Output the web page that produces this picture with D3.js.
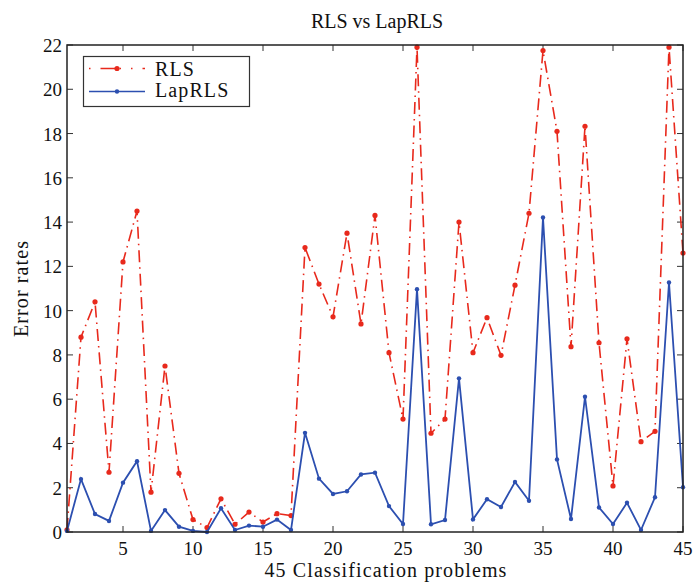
<!DOCTYPE html>
<html>
<head>
<meta charset="utf-8">
<script src="https://cdn.jsdelivr.net/npm/d3@7"></script>
<style>
  body { margin: 0; background: #fff; }
  text { font-family: "Liberation Serif", "DejaVu Serif", serif; fill: #111; }
  .lbl { font-size: 20px; letter-spacing: 1.1px; }
</style>
</head>
<body>
<div id="chart"></div>
<script>
(function () {
    // Data
    const problems = d3.range(1, 46);
    const rls = [0.1, 8.8, 10.4, 2.7, 12.2, 14.5, 1.8, 7.5, 2.65, 0.56,
                 0.2, 1.5, 0.35, 0.9, 0.45, 0.83, 0.74, 12.85, 11.2, 9.72,
                 13.5, 9.4, 14.3, 8.1, 5.1, 21.9, 4.46, 5.1, 14.0, 8.1,
                 9.68, 7.98, 11.15, 14.4, 21.75, 18.1, 8.37, 18.33, 8.55, 2.08,
                 8.73, 4.08, 4.55, 21.9, 12.6];
    const laprls = [0.05, 2.39, 0.81, 0.5, 2.23, 3.2, 0.05, 0.99, 0.24, 0.05,
                    0.0, 1.07, 0.09, 0.29, 0.24, 0.56, 0.09, 4.48, 2.41, 1.72,
                    1.84, 2.6, 2.68, 1.17, 0.36, 10.97, 0.35, 0.54, 6.94, 0.57,
                    1.48, 1.13, 2.26, 1.41, 14.21, 3.28, 0.59, 6.11, 1.11, 0.36,
                    1.32, 0.09, 1.57, 11.27, 2.02];
    const xTicks = [5, 10, 15, 20, 25, 30, 35, 40, 45];
    const yTicks = d3.range(0, 23, 2);

    const width = 696, height = 583;
    const margin = {top: 45, right: 13, bottom: 51, left: 67};

    const svg = d3.select("#chart").append("svg")
        .attr("width", width)
        .attr("height", height);

    const x = d3.scaleLinear().domain([1, 45]).range([margin.left, width - margin.right]);
    const y = d3.scaleLinear().domain([0, 22]).range([height - margin.bottom, margin.top]);

    const plotW = width - margin.right - margin.left;
    const plotH = height - margin.bottom - margin.top;

    svg.append("defs").append("clipPath").attr("id", "clip")
        .append("rect")
        .attr("x", margin.left - 3).attr("y", margin.top - 3)
        .attr("width", plotW + 6).attr("height", plotH + 6);

    // Ticks inside the box, on all four sides
    const tickLen = 6;
    const g = svg.append("g").attr("stroke", "#333").attr("stroke-width", 1);
    xTicks.forEach(t => {
        g.append("line").attr("x1", x(t)).attr("x2", x(t))
            .attr("y1", y(0)).attr("y2", y(0) - tickLen);
        g.append("line").attr("x1", x(t)).attr("x2", x(t))
            .attr("y1", y(22)).attr("y2", y(22) + tickLen);
    });
    yTicks.forEach(t => {
        g.append("line").attr("x1", x(1)).attr("x2", x(1) + tickLen)
            .attr("y1", y(t)).attr("y2", y(t));
        g.append("line").attr("x1", x(45)).attr("x2", x(45) - tickLen)
            .attr("y1", y(t)).attr("y2", y(t));
    });

    svg.selectAll(".xt").data(xTicks).enter().append("text")
        .attr("x", d => x(d)).attr("y", y(0) + 23)
        .attr("text-anchor", "middle").attr("font-size", 19)
        .text(d => d);
    svg.selectAll(".yt").data(yTicks).enter().append("text")
        .attr("x", x(1) - 5).attr("y", d => y(d) + 7)
        .attr("text-anchor", "end").attr("font-size", 19)
        .text(d => d);

    // Lines
    const line = d3.line().x((d, i) => x(problems[i])).y(d => y(d));
    const plot = svg.append("g").attr("clip-path", "url(#clip)");

    plot.append("path").datum(rls)
        .attr("d", line)
        .attr("fill", "none")
        .attr("stroke", "#e8291c")
        .attr("stroke-width", 1.6)
        .attr("stroke-dasharray", "12,5,1.5,5");
    plot.selectAll(".rdot").data(rls).enter().append("circle")
        .attr("cx", (d, i) => x(problems[i])).attr("cy", d => y(d))
        .attr("r", 2.6).attr("fill", "#e8291c");

    plot.append("path").datum(laprls)
        .attr("d", line)
        .attr("fill", "none")
        .attr("stroke", "#2c4fb0")
        .attr("stroke-width", 1.8);
    plot.selectAll(".bdot").data(laprls).enter().append("circle")
        .attr("cx", (d, i) => x(problems[i])).attr("cy", d => y(d))
        .attr("r", 2.2).attr("fill", "#2c4fb0");

    // Box
    svg.append("rect")
        .attr("x", margin.left).attr("y", margin.top)
        .attr("width", plotW).attr("height", plotH)
        .attr("fill", "none").attr("stroke", "#222").attr("stroke-width", 1.5);

    // Legend
    const lg = svg.append("g");
    lg.append("rect").attr("x", 83.5).attr("y", 56.5).attr("width", 166).attr("height", 50)
        .attr("fill", "#fff").attr("stroke", "#333").attr("stroke-width", 1.2);
    lg.append("line").attr("x1", 89).attr("x2", 145).attr("y1", 68.5).attr("y2", 68.5)
        .attr("stroke", "#e8291c").attr("stroke-width", 1.6)
        .attr("stroke-dasharray", "1.5,10,15,4,1.5,10");
    lg.append("circle").attr("cx", 117).attr("cy", 68.5).attr("r", 2.6).attr("fill", "#e8291c");
    lg.append("text").attr("class", "lbl").attr("x", 155).attr("y", 76).text("RLS");
    lg.append("line").attr("x1", 89).attr("x2", 145).attr("y1", 91.5).attr("y2", 91.5)
        .attr("stroke", "#2c4fb0").attr("stroke-width", 1.6);
    lg.append("circle").attr("cx", 117).attr("cy", 91.5).attr("r", 2.2).attr("fill", "#2c4fb0");
    lg.append("text").attr("class", "lbl").attr("x", 155).attr("y", 97).text("LapRLS");

    // Titles
    svg.append("text").attr("x", 377).attr("y", 28)
        .attr("text-anchor", "middle").attr("font-size", 20).text("RLS vs LapRLS");
    svg.append("text").attr("class", "lbl").attr("x", 386).attr("y", 577)
        .attr("text-anchor", "middle").text("45 Classification problems");
    svg.append("text").attr("class", "lbl")
        .attr("transform", `translate(28,${(margin.top + height - margin.bottom) / 2}) rotate(-90)`)
        .attr("text-anchor", "middle").text("Error rates");
})();
</script>
</body>
</html>
